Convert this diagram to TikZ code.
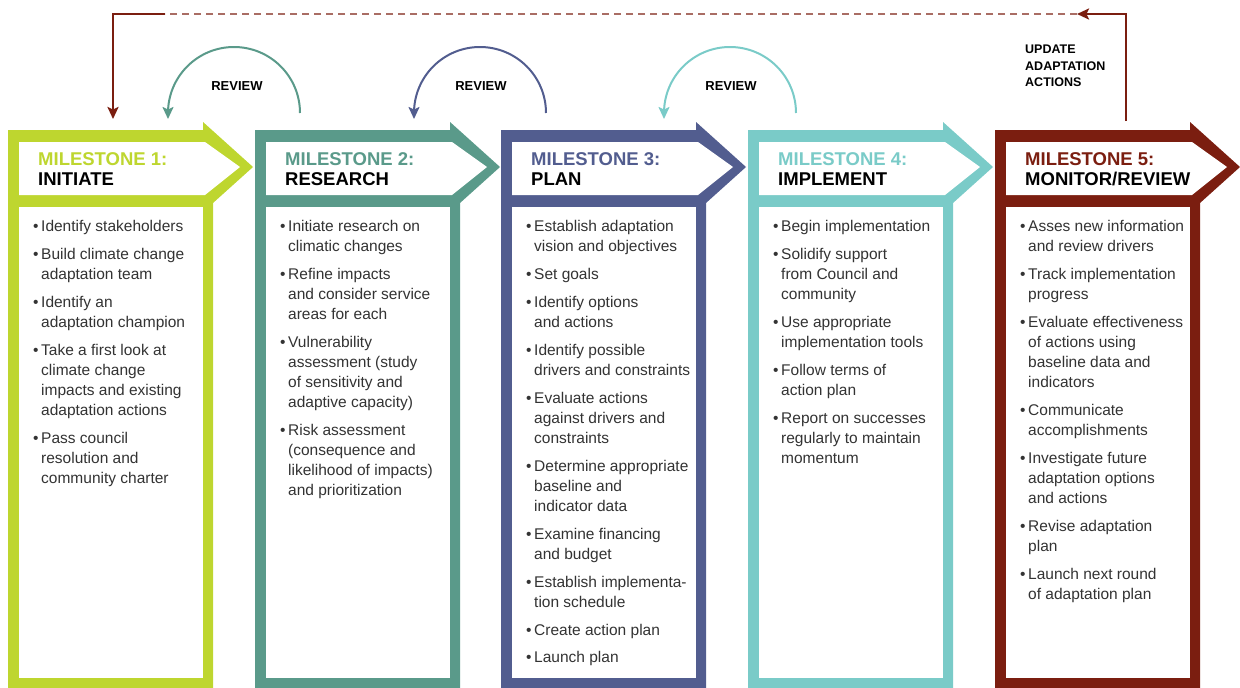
\documentclass[tikz,border=0pt]{standalone}
\usepackage{fontspec}
\setmainfont{Liberation Sans}
\usetikzlibrary{positioning,arrows.meta,calc}
\definecolor{msInit}{HTML}{BED62F}
\definecolor{msResearch}{HTML}{5A9A8A}
\definecolor{msPlan}{HTML}{525D8F}
\definecolor{msImpl}{HTML}{7ACBC8}
\definecolor{msMonitor}{HTML}{7B1E10}
\tikzset{
	headtext/.style={anchor=north west,inner sep=0,align=left,
		font=\fontsize{18.5}{20}\selectfont\bfseries},
	bodytext/.style={anchor=north west,inner sep=0,align=left,text=black!80,
		font=\fontsize{15.5}{20}\selectfont},
	review/.style={-{Stealth[length=12pt,width=11pt,inset=2.5pt]},line width=2pt,draw=#1},
	revlabel/.style={inner sep=0,font=\fontsize{13}{15}\selectfont\bfseries},
	upd/.style={-{Stealth[length=12pt,width=11pt,inset=2.5pt]},line width=2.5pt,draw=msMonitor},
	upddash/.style={dashed,dash pattern=on 7pt off 5pt,line width=1.5pt,draw=msMonitor!65},
	updlabel/.style={anchor=north west,inner sep=0,align=left,
		font=\fontsize{12.5}{16.5}\selectfont\bfseries}
}
\newcommand{\bul}{\makebox[8pt][l]{\textbullet}}
\newcommand{\ind}{\hspace*{8pt}}

\begin{document}
\begin{tikzpicture}[x=1pt,y=1pt]
\useasboundingbox (0,0) rectangle (1240,-688);

% milestone frames
\foreach \L/\c in {8/msInit,255/msResearch,501/msPlan,748/msImpl,995/msMonitor} {
	\fill[\c] (\L,-130) -- (\L+195,-130) -- (\L+195,-122) -- (\L+245,-167)
		-- (\L+205,-203) -- (\L+205,-688) -- (\L,-688) -- cycle;
	\fill[white] (\L+11,-142) -- (\L+197,-142) -- (\L+232,-167) -- (\L+197,-195)
		-- (\L+11,-195) -- cycle;
	\fill[white] (\L+11,-207) rectangle (\L+195,-678);
}

% headers
\node[headtext] (h1) at (38,-152) {\textcolor{msInit}{MILESTONE 1:}\\INITIATE};
\node[headtext] (h2) at (285,-152) {\textcolor{msResearch}{MILESTONE 2:}\\RESEARCH};
\node[headtext] (h3) at (531,-152) {\textcolor{msPlan}{MILESTONE 3:}\\PLAN};
\node[headtext] (h4) at (778,-152) {\textcolor{msImpl}{MILESTONE 4:}\\IMPLEMENT};
\node[headtext] (h5) at (1025,-152) {\textcolor{msMonitor}{MILESTONE 5:}\\MONITOR/REVIEW};

% bodies
\node[bodytext] (b1) at (33,-220.5) {%
\bul Identify stakeholders\\[8pt]%
\bul Build climate change\\\ind adaptation team\\[8pt]%
\bul Identify an\\\ind adaptation champion\\[8pt]%
\bul Take a first look at\\\ind climate change\\\ind impacts and existing\\\ind adaptation actions\\[8pt]%
\bul Pass council\\\ind resolution and\\\ind community charter};
\node[bodytext] (b2) at (280,-220.5) {%
\bul Initiate research on\\\ind climatic changes\\[8pt]%
\bul Refine impacts\\\ind and consider service\\\ind areas for each\\[8pt]%
\bul Vulnerability\\\ind assessment (study\\\ind of sensitivity and\\\ind adaptive capacity)\\[8pt]%
\bul Risk assessment\\\ind (consequence and\\\ind likelihood of impacts)\\\ind and prioritization};
\node[bodytext] (b3) at (526,-220.5) {%
\bul Establish adaptation\\\ind vision and objectives\\[8pt]%
\bul Set goals\\[8pt]%
\bul Identify options\\\ind and actions\\[8pt]%
\bul Identify possible\\\ind drivers and constraints\\[8pt]%
\bul Evaluate actions\\\ind against drivers and\\\ind constraints\\[8pt]%
\bul Determine appropriate\\\ind baseline and\\\ind indicator data\\[8pt]%
\bul Examine financing\\\ind and budget\\[8pt]%
\bul Establish implementa-\\\ind tion schedule\\[8pt]%
\bul Create action plan\\[7pt]%
\bul Launch plan};
\node[bodytext] (b4) at (773,-220.5) {%
\bul Begin implementation\\[8pt]%
\bul Solidify support\\\ind from Council and\\\ind community\\[8pt]%
\bul Use appropriate\\\ind implementation tools\\[8pt]%
\bul Follow terms of\\\ind action plan\\[8pt]%
\bul Report on successes\\\ind regularly to maintain\\\ind momentum};
\node[bodytext] (b5) at (1020,-220.5) {%
\bul Asses new information\\\ind and review drivers\\[8pt]%
\bul Track implementation\\\ind progress\\[8pt]%
\bul Evaluate effectiveness\\\ind of actions using\\\ind baseline data and\\\ind indicators\\[8pt]%
\bul Communicate\\\ind accomplishments\\[8pt]%
\bul Investigate future\\\ind adaptation options\\\ind and actions\\[8pt]%
\bul Revise adaptation\\\ind plan\\[8pt]%
\bul Launch next round\\\ind of adaptation plan};

% review loops
\coordinate (r1s) at (300,-113);
\coordinate (r1e) at (168,-119);
\coordinate (r2s) at (546,-113);
\coordinate (r2e) at (414,-119);
\coordinate (r3s) at (796,-113);
\coordinate (r3e) at (664,-119);
\draw[review=msResearch] (r1s) arc[start angle=0,end angle=180,radius=66] -- (r1e);
\draw[review=msPlan] (r2s) arc[start angle=0,end angle=180,radius=66] -- (r2e);
\draw[review=msImpl] (r3s) arc[start angle=0,end angle=180,radius=66] -- (r3e);
\node[revlabel] (rv1) at (237,-86) {REVIEW};
\node[revlabel] (rv2) at (481,-86) {REVIEW};
\node[revlabel] (rv3) at (731,-86) {REVIEW};

% update loop
\coordinate (u0) at (1126,-121);
\coordinate (u1) at (1077,-14);
\coordinate (u2) at (165,-14);
\coordinate (u3) at (113,-119);
\draw[upd] (u0) |- (u1);
\draw[upddash] (u1) -- (u2);
\draw[upd] (u2) -| (u3);
\node[updlabel] (ul) at (1025,-45) {UPDATE\\ADAPTATION\\ACTIONS};
\end{tikzpicture}
\end{document}
